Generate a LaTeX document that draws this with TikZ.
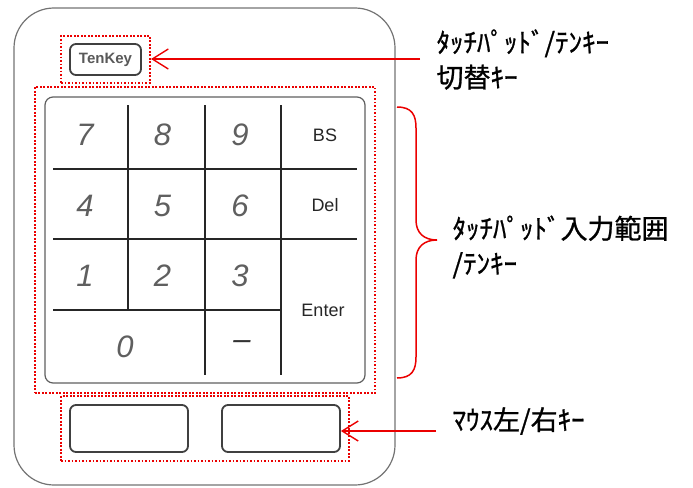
\documentclass[tikz,border=0pt]{standalone}
\usepackage{fontspec}
\setsansfont{Liberation Sans}
\newfontfamily\jpfont{Noto Sans CJK JP}[FakeBold=0.9]
\usepackage{tikz}
\usetikzlibrary{calc,fit,arrows.meta}
\definecolor{markred}{RGB}{ 235, 0, 0 }
\definecolor{padgray}{RGB}{ 95, 95, 95 }

\begin{document}
\begin{tikzpicture}[x=1pt,y=-1pt,font=\sffamily]
\tikzstyle{dot frame}=[draw=markred,line width=2.2pt,dash pattern=on 1.8pt off 1.7pt]
\tikzstyle{red arrow}=[draw=markred,line width=1.4pt,-{Straight Barb[length=16pt,width=20pt,line width=1.4pt]}]
\tikzstyle{button}=[draw=black!75,line width=1.8pt,rounded corners=6pt,inner sep=0pt]
\tikzstyle{grid line}=[black!85,line width=1.6pt]
\tikzstyle{digit}=[text=padgray,font=\sffamily\itshape\fontsize{31}{31}\selectfont]
\tikzstyle{word}=[text=black!85,font=\sffamily\fontsize{18}{18}\selectfont]
\tikzstyle{note}=[font=\jpfont\fontsize{27}{35}\selectfont,align=left,anchor=west]

\useasboundingbox (0,0) rectangle (693,487);

% body and pad
\node(body)[draw=black!55,line width=1.2pt,rounded corners=40pt,
            minimum width=381pt,minimum height=477pt] at (204.5,246.5) {};
\node(pad)[draw=padgray,line width=1.2pt,rounded corners=8pt,
           minimum width=320pt,minimum height=286pt] at (205,240) {};

% key grid
\foreach \y in {169,239} \draw[grid line] (53,\y) -- (357,\y);
\draw[grid line] (53,310) -- (281,310);
\draw[grid line] (128,105) -- (128,310);
\foreach \x in {205,281} \draw[grid line] (\x,105) -- (\x,375);

\foreach \t [count=\i from 0] in {7,8,9,4,5,6,1,2,3}
    \node(k\t)[digit] at ({85+77.5*mod(\i,3)},{135+70.5*int(\i/3)}) {\t};
\node(k0)[digit] at (125,347) {0};
\node(kminus)[digit,text=black!80] at (242,345) {--};
\node(kbs)[word] at (325,135) {BS};
\node(kdel)[word] at (325,205) {Del};
\node(kenter)[word] at (323,310) {Enter};

% switch key and mouse keys
\node(sw)[button,minimum width=71pt,minimum height=31pt,text=black!65,
          font=\sffamily\bfseries\fontsize{15}{15}\selectfont] at (105.5,59.5) {TenKey};
\node(mouseL)[button,minimum width=118pt,minimum height=47pt] at (129,428.5) {};
\node(mouseR)[button,minimum width=118pt,minimum height=47pt] at (281,428.5) {};

% marked areas
\node(swframe)[dot frame,fit=(sw),inner xsep=8pt,inner ysep=7pt] {};
\node(padframe)[dot frame,fit=(pad),inner sep=9.5pt] {};
\node(mouseframe)[dot frame,fit=(mouseL)(mouseR),inner xsep=8pt,inner ysep=8pt] {};

% notes
\node(note1)[note] at (433,59.5) {ﾀｯﾁﾊﾟｯﾄﾞ/ﾃﾝｷｰ\\切替ｷｰ};
\node(note2)[note] at (449,247) {ﾀｯﾁﾊﾟｯﾄﾞ入力範囲\\/ﾃﾝｷｰ};
\node(note3)[note] at (449,421) {ﾏｳｽ左/右ｷｰ};

\coordinate(tail1) at (420,59);
\coordinate(tail3) at (436,431);
\draw[red arrow] (tail1) -- (tail1 -| swframe.east);
\draw[red arrow] (tail3) -- (tail3 -| mouseR.east);

% brace
\draw[markred,line width=1.5pt] (397,107) .. controls (412,107) and (416,115) .. (416,128)
    -- (416,220) .. controls (416,233) and (424,240) .. (437,240)
    .. controls (424,240) and (416,247) .. (416,260)
    -- (416,357) .. controls (416,370) and (412,378) .. (397,378);

\end{tikzpicture}
\end{document}
